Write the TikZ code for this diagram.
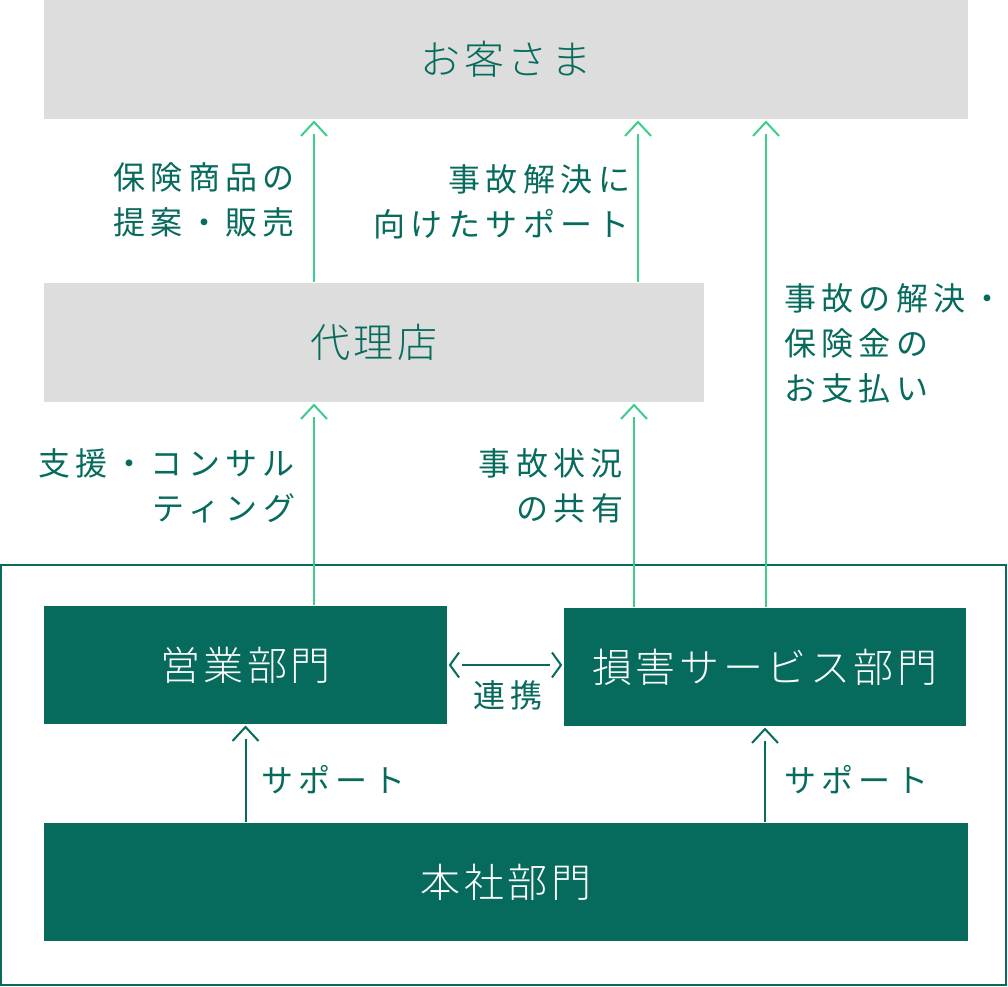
\documentclass[tikz,border=0pt]{standalone}
\usepackage{fontspec}
\setmainfont{Noto Sans CJK JP}[UprightFont={* Light}]
\newfontfamily\boxfont{Noto Sans CJK JP}[UprightFont={* Light},LetterSpace=9]
\newfontfamily\notefont{Noto Sans CJK JP}[LetterSpace=17]
\usepackage{tikz}
\usetikzlibrary{decorations.markings}
\definecolor{uigreen}{RGB}{6,107,93}
\definecolor{uimint}{RGB}{61,205,139}
\definecolor{uigray}{RGB}{221,221,221}
\tikzstyle{graybox} = [fill=uigray,text=uigreen,inner sep=0pt,minimum height=119pt,font=\boxfont\fontsize{40}{46}\selectfont]
\tikzstyle{greenbox} = [fill=uigreen,text=white,inner sep=0pt,minimum height=118pt,font=\boxfont\fontsize{40}{46}\selectfont]
\tikzstyle{note} = [text=uigreen,inner sep=0pt,font=\notefont\fontsize{32}{45}\selectfont]
\tikzstyle{uptip} = [shorten >=14pt,postaction={decorate,decoration={markings,
    mark=at position 1 with {\draw[shorten >=0pt,shorten <=0pt] (-16pt,13pt) -- (-2pt,0pt) -- (-16pt,-13pt);}}}]
\tikzstyle{bothtip} = [shorten >=13pt,shorten <=14pt,postaction={decorate,decoration={markings,
    mark=at position 0 with {\draw[shorten >=0pt,shorten <=0pt] (11pt,12.5pt) -- (2pt,0pt) -- (11pt,-12.5pt);},
    mark=at position 1 with {\draw[shorten >=0pt,shorten <=0pt] (-11pt,12.5pt) -- (-2pt,0pt) -- (-11pt,-12.5pt);}}}]

\begin{document}
\begin{tikzpicture}[x=1pt,y=1pt,line width=2pt]
    \useasboundingbox (0,0) rectangle (1008,986);

      % boxes
      \node[graybox,minimum width=924pt] (customer) at (506,926.5) {お客さま};
      \node[graybox,minimum width=660pt] (agency)   at (374,643.5) {代理店};
      \draw[uigreen] (1,1) rectangle (1006,421);
      \node[greenbox,minimum width=403pt] (sales)  at (245.5,321) {営業部門};
      \node[greenbox,minimum width=402pt] (claims) at (765,319)   {損害サービス部門};
      \node[greenbox,minimum width=924pt] (hq)     at (506,104)   {本社部門};

      % flows to the customer and the agency
      \foreach \from/\to/\dx in {agency/customer/-60, agency/customer/264,
                                 claims/customer/1, sales/agency/68.5, claims/agency/-131} {
        \draw[uimint,uptip] ([xshift=\dx pt]\from.north) -- ([xshift=\dx pt]\from.north |- \to.south);
      }

      % support inside the company
      \draw[uigreen,uptip] (hq.north -| sales.south) -- (sales.south);
      \draw[uigreen,uptip] (hq.north -| claims.south) -- (claims.south);
      \draw[uigreen,bothtip] (sales.east) -- (sales.east -| claims.west);

      % labels
      \node[note,anchor=east,align=right] (n1) at (296,786) {保険商品の\\提案・販売};
      \node[note,anchor=east,align=right] (n2) at (631,784) {事故解決に\\向けたサポート};
      \node[note,anchor=west,align=left]  (n3) at (783,643) {事故の解決・\\保険金の\\お支払い};
      \node[note,anchor=east,align=right] (n4) at (296,500.5) {支援・コンサル\\ティング};
      \node[note,anchor=east,align=right] (n5) at (624,500.5) {事故状況\\の共有};
      \node[note] (n6) at (508,291) {連携};
      \node[note,anchor=west] (n7) at (260,206) {サポート};
      \node[note,anchor=west] (n8) at (783,206) {サポート};
    \end{tikzpicture}
\end{document}
